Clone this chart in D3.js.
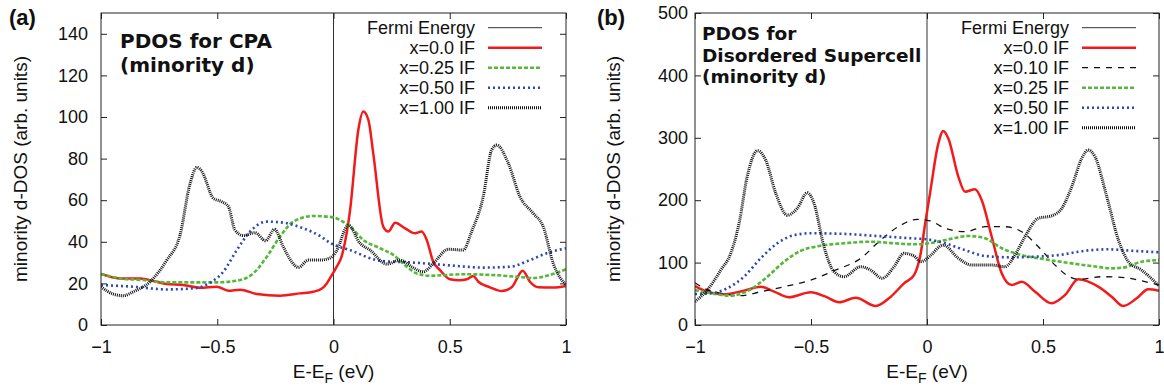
<!DOCTYPE html>
<html>
<head>
<meta charset="utf-8">
<script src="https://cdn.jsdelivr.net/npm/d3@7"></script>
<style>
  body { margin: 0; background: #fff; }
  text { font-family: "Liberation Sans", Arial, sans-serif; fill: #111; }
</style>
</head>
<body>
<svg id="chart" width="1164" height="392"></svg>
<script>
// ---- data: [E - E_F (eV), minority d-DOS] ----
const energyTicks = [-1, -0.5, 0, 0.5, 1];
const cpaTicks = [0, 20, 40, 60, 80, 100, 120, 140];
const scTicks = [0, 100, 200, 300, 400, 500];

const cpaLegend = ["Fermi Energy", "x=0.0 IF", "x=0.25 IF", "x=0.50 IF", "x=1.00 IF"];
const scLegend = ["Fermi Energy", "x=0.0 IF", "x=0.10 IF", "x=0.25 IF", "x=0.50 IF", "x=1.00 IF"];

// (a) CPA
const cpaIF000 = [[-1,24.5],[-0.92,22.4],[-0.83,22.3],[-0.775,21.2],[-0.717,19.7],[-0.646,19.2],[-0.574,17.9],
  [-0.502,18.4],[-0.452,16.5],[-0.402,17],[-0.33,14.9],[-0.23,14.1],[-0.144,15.2],[-0.087,16],[-0.05,17.5],
  [-0.029,20],[-0.01,23.5],[0.011,27.5],[0.035,33],[0.071,55],[0.107,94],[0.128,102.6],[0.15,98.6],
  [0.171,82.5],[0.214,47.3],[0.236,44.9],[0.265,49.2],[0.308,46.5],[0.351,44.1],[0.379,44.9],[0.401,40.9],
  [0.429,30.4],[0.458,26.4],[0.501,22],[0.544,21.5],[0.573,22],[0.601,23.6],[0.623,20.8],[0.673,18.1],
  [0.723,16.3],[0.766,18.1],[0.814,26.1],[0.845,20.8],[0.881,18.1],[0.945,18],[1,18.8]];
const cpaIF025 = [[-1,24.5],[-0.918,22.4],[-0.818,21.6],[-0.717,20.5],[-0.603,20.5],[-0.502,20.5],[-0.402,21.6],
  [-0.345,24.8],[-0.287,32.8],[-0.23,42.5],[-0.173,49.7],[-0.087,52.4],[-0.015,52],[0.071,47.3],[0.128,40.9],
  [0.2,36.9],[0.257,33.7],[0.315,28],[0.358,24.8],[0.415,23.7],[0.558,24.4],[0.673,24.1],[0.788,23.2],
  [0.859,22.6],[0.931,24.1],[1,26.8]];
const cpaIF050 = [[-1,19.2],[-0.861,18.4],[-0.717,17.1],[-0.603,17.6],[-0.531,20.3],[-0.474,25.6],[-0.416,36],
  [-0.359,44.9],[-0.287,49.7],[-0.216,49.2],[-0.13,46.5],[-0.058,42.8],[-0.015,39.5],[0.071,36],[0.2,30.9],
  [0.343,30],[0.487,28.8],[0.644,27.6],[0.759,28],[0.845,31.2],[0.917,34.5],[1,36.9]];
const cpaIF100 = [[-1,18.4],[-0.95,15],[-0.904,14.1],[-0.861,16],[-0.789,20.8],[-0.717,31.2],[-0.66,43.3],
  [-0.617,68],[-0.588,75.8],[-0.567,74],[-0.517,61],[-0.481,59.3],[-0.452,56.9],[-0.424,45.7],[-0.388,43],
  [-0.338,44.4],[-0.292,40.5],[-0.254,46],[-0.216,37.6],[-0.18,30.4],[-0.151,27.7],[-0.108,31.2],[-0.058,31.2],
  [-0.015,32.2],[0.011,35.2],[0.064,48],[0.114,39.3],[0.157,36],[0.229,29.3],[0.286,31.2],[0.336,28],
  [0.386,25.6],[0.429,29.6],[0.494,36.4],[0.558,36],[0.594,44.9],[0.644,61.7],[0.68,84.1],[0.702,86.5],
  [0.752,77.7],[0.802,61.7],[0.859,53.7],[0.902,47.3],[0.945,29.6],[1,19.2]];

// (b) disordered supercell
const scIF000 = [[-1,62.5],[-0.947,53.4],[-0.875,49.2],[-0.789,55],[-0.717,61.4],[-0.659,53.4],[-0.595,44.4],
  [-0.501,52.4],[-0.437,45.4],[-0.379,36.4],[-0.307,43.8],[-0.221,30.4],[-0.156,45.4],[-0.099,66.8],
  [-0.056,80],[-0.027,115],[-0.009,160],[0.013,211],[0.049,291],[0.07,311],[0.092,299],[0.135,237.7],
  [0.164,213.6],[0.207,217.4],[0.236,200],[0.279,141.5],[0.322,82.8],[0.365,64],[0.408,69.4],[0.466,53.4],
  [0.537,34.8],[0.595,48],[0.652,73.2],[0.738,61.4],[0.796,45.4],[0.846,30.4],[0.904,42.8],[0.954,57.2],[1,55]];
const scIF010 = [[-1,67.8],[-0.961,58.8],[-0.889,50.8],[-0.803,47],[-0.717,53.4],[-0.602,62.5],[-0.501,72],
  [-0.401,87],[-0.286,106.8],[-0.2,136],[-0.113,160],[-0.042,169.4],[0.013,167],[0.078,155],[0.164,149.5],
  [0.25,157.5],[0.336,157.5],[0.408,149.5],[0.48,125.5],[0.552,96],[0.602,80],[0.652,73.2],[0.753,77.4],
  [0.853,75.8],[0.94,69.4],[1,64]];
const scIF025 = [[-1,56],[-0.932,50.8],[-0.846,47],[-0.76,57.2],[-0.688,77.4],[-0.616,101.5],[-0.544,119],
  [-0.458,127],[-0.358,131],[-0.243,133.5],[-0.142,131],[-0.056,129.3],[0.01,131],[0.078,136],[0.178,142.6],
  [0.25,139],[0.322,123],[0.408,112],[0.509,105.2],[0.624,98.8],[0.71,94.5],[0.796,90.8],[0.853,92.4],
  [0.925,101.5],[1,104]];
const scIF050 = [[-1,49.7],[-0.932,50.8],[-0.861,58.8],[-0.789,77.4],[-0.717,106.8],[-0.645,131],[-0.573,144],
  [-0.501,147],[-0.358,146],[-0.214,142.6],[-0.07,139],[0,137.3],[0.078,131],[0.164,120],[0.25,110.6],
  [0.365,108.4],[0.466,109.5],[0.566,112],[0.681,119],[0.782,121.3],[0.882,119],[1,116.5]];
const scIF100 = [[-1,37.4],[-0.947,56],[-0.889,88],[-0.846,114.8],[-0.81,163],[-0.775,237.7],[-0.731,279.4],
  [-0.695,264],[-0.652,211],[-0.602,176],[-0.559,187],[-0.516,212],[-0.487,195],[-0.444,125.5],[-0.401,85.4],
  [-0.358,77.4],[-0.286,93.4],[-0.243,88],[-0.193,74.8],[-0.142,93.4],[-0.099,114.8],[-0.056,110.6],
  [-0.027,101.5],[-0.009,104],[0.013,110.6],[0.07,128],[0.135,107],[0.193,96],[0.279,96],[0.336,93.4],
  [0.379,112],[0.422,141.5],[0.48,171],[0.537,175],[0.581,187],[0.624,221.6],[0.667,267],[0.695,280.4],
  [0.724,269.7],[0.775,205.6],[0.825,136.2],[0.868,101.5],[0.925,88],[1,62.5]];

// line styles per legend entry
const styles = {
  "Fermi Energy": { color: "#333", width: 1, dash: null },
  "x=0.0 IF":  { color: "#f21a1a", width: 2.5, dash: null },
  "x=0.10 IF": { color: "#111", width: 1.3, dash: "6,6" },
  "x=0.25 IF": { color: "#55b838", width: 2.6, dash: "4,2" },
  "x=0.50 IF": { color: "#2c47b3", width: 2.6, dash: "2,3" },
  "x=1.00 IF": { color: "#111", width: 3, dash: "1,1" }
};

const svg = d3.select("#chart");
svg.append("rect").attr("width", "100%").attr("height", "100%").style("fill", "#fff");

function drawPanel(p) {
  const x = d3.scaleLinear().domain([-1, 1]).range([p.left, p.right]);
  const y = d3.scaleLinear().domain([0, p.yMax]).range([p.bottom, p.top]);
  const g = svg.append("g");

  g.append("clipPath").attr("id", p.id + "-clip")
    .append("rect")
    .attr("x", p.left).attr("y", p.top)
    .attr("width", p.right - p.left).attr("height", p.bottom - p.top);

  const plot = g.append("g").attr("clip-path", "url(#" + p.id + "-clip)");

  // Fermi level
  plot.append("line")
    .attr("x1", x(0)).attr("x2", x(0))
    .attr("y1", y(0)).attr("y2", y(p.yMax))
    .attr("stroke", styles["Fermi Energy"].color)
    .attr("stroke-width", 1);

  const line = d3.line()
    .x(d => x(d[0]))
    .y(d => y(d[1]))
    .curve(d3.curveMonotoneX);

  plot.selectAll("path.series")
    .data(p.series)
    .enter().append("path")
    .attr("class", "series")
    .attr("d", d => line(d.values))
    .attr("fill", "none")
    .attr("stroke", d => styles[d.name].color)
    .attr("stroke-width", d => styles[d.name].width)
    .attr("stroke-dasharray", d => styles[d.name].dash)
    .attr("stroke-linejoin", "round");

  // axes, ticks pointing inward on all four sides
  const bottom = g.append("g").attr("transform", "translate(0," + p.bottom + ")")
    .call(d3.axisBottom(x).tickValues(energyTicks).tickSizeInner(-6).tickSizeOuter(0)
      .tickPadding(15).tickFormat(d3.format("")));
  const top = g.append("g").attr("transform", "translate(0," + p.top + ")")
    .call(d3.axisTop(x).tickValues(energyTicks).tickSizeInner(-6).tickSizeOuter(0).tickFormat(""));
  const left = g.append("g").attr("transform", "translate(" + p.left + ",0)")
    .call(d3.axisLeft(y).tickValues(p.yTicks).tickSizeInner(-6).tickSizeOuter(0).tickPadding(p.yPad));
  const right = g.append("g").attr("transform", "translate(" + p.right + ",0)")
    .call(d3.axisRight(y).tickValues(p.yTicks).tickSizeInner(-6).tickSizeOuter(0).tickFormat(""));

  [bottom, top, left, right].forEach(a => {
    a.select(".domain").remove();
    a.selectAll(".tick line").attr("stroke", "#222");
    a.selectAll("text").style("font-family", "'Liberation Sans', Arial, sans-serif")
      .style("font-size", "18px").attr("fill", "#111");
  });

  g.append("rect")
    .attr("x", p.left).attr("y", p.top)
    .attr("width", p.right - p.left).attr("height", p.bottom - p.top)
    .attr("fill", "none").attr("stroke", "#222").attr("stroke-width", 1);

  // legend
  const legend = g.append("g");
  const rows = legend.selectAll("g").data(p.legend).enter().append("g")
    .attr("transform", (d, i) => "translate(0," + (p.top + 14.7 + i * 20) + ")");
  rows.append("text")
    .attr("x", p.legendX - 13).attr("dy", "0.35em")
    .attr("text-anchor", "end")
    .style("font-size", "18px")
    .text(d => d);
  rows.append("line")
    .attr("x1", p.legendX).attr("x2", p.legendX + 54)
    .attr("stroke", d => styles[d].color)
    .attr("stroke-width", d => styles[d].width)
    .attr("stroke-dasharray", d => styles[d].dash);

  // title inside the plot
  const title = g.append("text")
    .style("font-family", "'DejaVu Sans', sans-serif")
    .style("font-weight", "bold")
    .style("font-size", p.titleSize + "px");
  p.title.forEach((t, i) => {
    title.append("tspan").attr("x", p.left + p.titleDx)
      .attr("y", p.titleY + i * p.titleStep).text(t);
  });

  // axis titles
  const xl = g.append("text")
    .attr("x", (p.left + p.right) / 2).attr("y", 378)
    .attr("text-anchor", "middle")
    .style("font-size", "19px");
  xl.append("tspan").text("E-E");
  xl.append("tspan").attr("dy", 5).style("font-size", "14px").text("F");
  xl.append("tspan").attr("dy", -5).text(" (eV)");

  g.append("text")
    .attr("transform", "translate(" + p.yLabelX + "," + ((p.top + p.bottom) / 2) + ") rotate(-90)")
    .attr("text-anchor", "middle")
    .style("font-size", "19px")
    .text("minority d-DOS (arb. units)");

  g.append("text")
    .attr("x", p.tagX).attr("y", 25)
    .style("font-weight", "bold")
    .style("font-size", "22px")
    .text(p.tag);
}

drawPanel({
  id: "cpa", left: 101, right: 566, top: 13, bottom: 325, yMax: 150, yTicks: cpaTicks, yPad: 13,
  legend: cpaLegend, legendX: 488,
  title: ["PDOS for CPA", "(minority d)"], titleSize: 20, titleDx: 19, titleY: 47.5, titleStep: 24,
  yLabelX: 27, tag: "(a)", tagX: 9,
  series: [
    { name: "x=0.0 IF", values: cpaIF000 },
    { name: "x=0.25 IF", values: cpaIF025 },
    { name: "x=0.50 IF", values: cpaIF050 },
    { name: "x=1.00 IF", values: cpaIF100 }
  ]
});

drawPanel({
  id: "sc", left: 695, right: 1159, top: 13, bottom: 325, yMax: 500, yTicks: scTicks, yPad: 7,
  legend: scLegend, legendX: 1082,
  title: ["PDOS for", "Disordered Supercell", "(minority d)"], titleSize: 18.5, titleDx: 7, titleY: 40, titleStep: 21.7,
  yLabelX: 620, tag: "(b)", tagX: 597,
  series: [
    { name: "x=0.0 IF", values: scIF000 },
    { name: "x=0.10 IF", values: scIF010 },
    { name: "x=0.25 IF", values: scIF025 },
    { name: "x=0.50 IF", values: scIF050 },
    { name: "x=1.00 IF", values: scIF100 }
  ]
});
</script>
</body>
</html>
